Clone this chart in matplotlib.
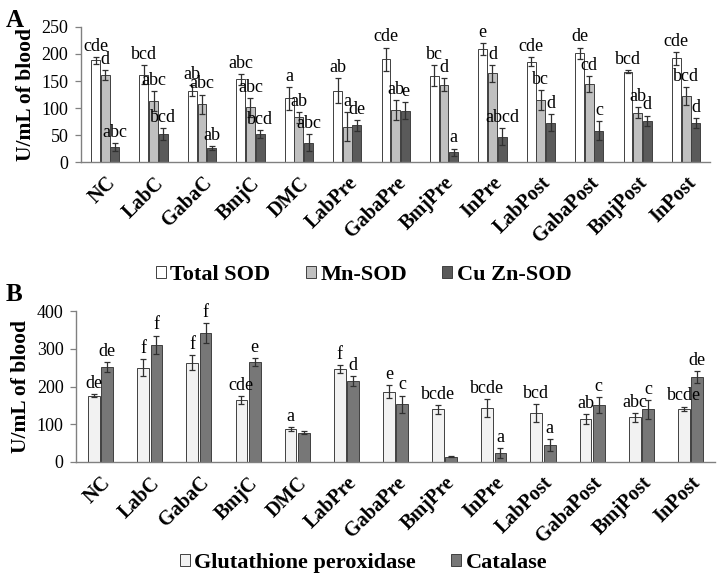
import numpy as np
import matplotlib.pyplot as plt
from matplotlib.patches import Patch
from matplotlib.font_manager import FontProperties

plt.rcParams['font.family'] = ['Liberation Serif', 'DejaVu Serif']

groups = ['NC', 'LabC', 'GabaC', 'BmjC', 'DMC', 'LabPre', 'GabaPre', 'BmjPre',
          'InPre', 'LabPost', 'GabaPost', 'BmjPost', 'InPost']

# ---- panel A : SOD ----
total_sod = [188, 162, 132, 153, 118, 132, 190, 160, 210, 186, 201, 167, 192]
total_err = [7, 18, 10, 10, 21, 23, 22, 20, 11, 8, 11, 3, 12]
mn_sod = [161, 113, 107, 101, 83, 65, 96, 143, 164, 115, 144, 91, 122]
mn_err = [9, 19, 18, 18, 10, 27, 18, 12, 15, 18, 15, 10, 17]
cuzn_sod = [28, 52, 26, 52, 36, 68, 95, 18, 47, 73, 58, 76, 72]
cuzn_err = [7, 11, 4, 8, 16, 10, 16, 7, 16, 15, 18, 10, 9]

total_let = ['cde', 'bcd', 'ab', 'abc', 'a', 'ab', 'cde', 'bc', 'e', 'cde', 'de', 'bcd', 'cde']
mn_let = ['d', 'abc', 'abc', 'abc', 'ab', 'a', 'ab', 'd', 'd', 'bc', 'cd', 'ab', 'bcd']
cuzn_let = ['abc', 'bcd', 'ab', 'bcd', 'abc', 'de', 'e', 'a', 'abcd', 'd', 'c', 'd', 'd']

# ---- panel B : GPx / catalase ----
gpx = [175, 250, 263, 164, 87, 247, 186, 140, 143, 130, 114, 118, 141]
gpx_err = [4, 22, 20, 10, 5, 10, 17, 12, 23, 23, 13, 12, 6]
cat = [252, 310, 341, 265, 77, 215, 153, 14, 24, 45, 150, 140, 225]
cat_err = [14, 25, 27, 10, 4, 13, 23, 2, 14, 15, 21, 25, 16]

gpx_let = ['de', 'f', 'f', 'cde', 'a', 'f', 'e', 'bcde', 'bcde', 'bcd', 'ab', 'abc', 'bcde']
cat_let = ['de', 'f', 'f', 'e', '', 'd', 'c', '', 'a', 'a', 'c', 'c', 'de']

x = np.arange(len(groups))
edge = '#404040'
err_kw = dict(ecolor='#303030', elinewidth=0.9, capsize=2.5, capthick=0.9)
tick_font = dict(fontsize=14.5, fontweight='bold', rotation=45, ha='right', rotation_mode='anchor')
leg_font = FontProperties(family='Liberation Serif', weight='bold', size=16)
leg_kw = dict(loc='center', frameon=False, prop=leg_font,
              handlelength=0.45, handleheight=0.45, handletextpad=0.2, columnspacing=1.6)


def style_axis(ax, ymax, step):
    ax.set_xlim(-0.5, len(groups) - 0.5)
    ax.set_ylim(0, ymax)
    ax.set_yticks(np.arange(0, ymax + 1, step))
    ax.tick_params(axis='y', labelsize=13, length=4, width=0.9, color='#808080', pad=5)
    ax.tick_params(axis='x', length=0, pad=8)
    ax.set_xticks(x)
    ax.set_xticklabels(groups, **tick_font)
    for s in ['top', 'right']:
        ax.spines[s].set_visible(False)
    for s in ['left', 'bottom']:
        ax.spines[s].set_color('#808080')
        ax.spines[s].set_linewidth(1.0)
    ax.set_ylabel('U/mL of blood', fontsize=15.5, fontweight='bold', labelpad=4)


def add_letters(ax, xs, vals, errs, labels):
    for xi, v, e, lab in zip(xs, vals, errs, labels):
        if lab:
            ax.annotate(lab, (xi, v + e), xytext=(0, 1.5), textcoords='offset points',
                        ha='center', va='bottom', fontsize=13)


def add_legend(ax, spec, ypix):
    leg = ax.legend(handles=[Patch(facecolor=c, edgecolor=edge, linewidth=0.7, label=n)
                             for _, _, c, _, n in spec],
                    bbox_to_anchor=(0.505, (578 - ypix) / 578), bbox_transform=fig.transFigure,
                    ncol=len(spec), **leg_kw)
    for t in leg.get_texts():
        t.set_fontproperties(leg_font)
    return leg


fig = plt.figure(figsize=(7.2, 5.78), dpi=100)

# panel A
axA = fig.add_axes([0.1125, 0.7197, 0.874, 0.2336])
w = 0.2
specs = [(total_sod, total_err, 'white', total_let, 'Total SOD'),
         (mn_sod, mn_err, '#c0c0c0', mn_let, 'Mn-SOD'),
         (cuzn_sod, cuzn_err, '#5a5a5a', cuzn_let, 'Cu Zn-SOD')]
for k, (vals, errs, col, lets, name) in enumerate(specs):
    xs = x + (k - 1) * w
    axA.bar(xs, vals, w * 0.92, yerr=errs, color=col, edgecolor=edge, linewidth=0.7,
            error_kw=err_kw, label=name)
    add_letters(axA, xs, vals, errs, lets)
style_axis(axA, 250, 50)
add_legend(axA, specs, 275)
fig.text(0.008, 0.985, 'A', fontsize=18, fontweight='bold', va='top')

# panel B
axB = fig.add_axes([0.1056, 0.2007, 0.8875, 0.2612])
wb = 0.24
specsB = [(gpx, gpx_err, '#f2f2f2', gpx_let, 'Glutathione peroxidase'),
          (cat, cat_err, '#777777', cat_let, 'Catalase')]
for k, (vals, errs, col, lets, name) in enumerate(specsB):
    xs = x + (k - 0.5) * (wb + 0.03)
    axB.bar(xs, vals, wb, yerr=errs, color=col, edgecolor=edge, linewidth=0.7,
            error_kw=err_kw, label=name)
    add_letters(axB, xs, vals, errs, lets)
style_axis(axB, 400, 100)
add_legend(axB, specsB, 563)
fig.text(0.008, (578 - 283) / 578, 'B', fontsize=18, fontweight='bold', va='top')

fig.savefig('out.png', dpi=100)
